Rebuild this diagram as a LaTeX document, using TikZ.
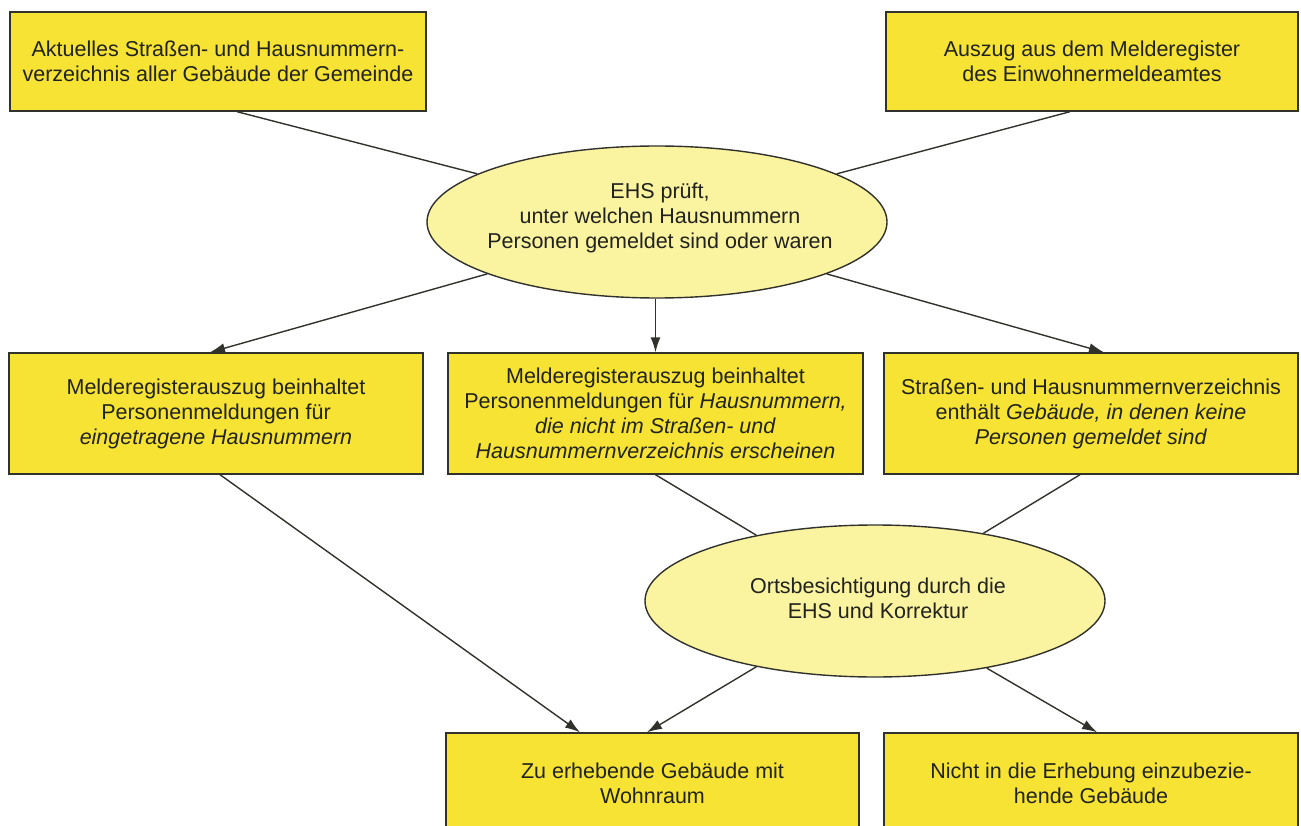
\documentclass[tikz,border=0pt]{standalone}
\usepackage{fontspec}
\setmainfont{Liberation Sans}
\usetikzlibrary{shapes.geometric,arrows.meta}
\definecolor{boxfill}{RGB}{246,227,52}
\definecolor{ellfill}{RGB}{250,243,160}
\definecolor{edge}{RGB}{50,50,45}
\definecolor{ink}{RGB}{34,34,30}
\tikzset{
  box/.style={rectangle, draw=edge, line width=1.4pt, fill=boxfill, inner sep=0pt,
    align=center, text=ink, font=\fontsize{21.5}{25}\selectfont},
  ell/.style={ellipse, draw=edge, line width=1.4pt, fill=ellfill, inner sep=0pt,
    minimum width=460pt, minimum height=152pt},
  elltext/.style={align=center, text=ink, inner sep=0pt, font=\fontsize{21.5}{25}\selectfont},
  conn/.style={draw=edge, line width=1.4pt},
  arr/.style={conn, -{Latex[length=15pt,width=10pt]}}
}
\begin{document}
\begin{tikzpicture}[x=1pt,y=-1pt]
\useasboundingbox (0,0) rectangle (1301,826);
\fill[white] (0,0) rectangle (1301,826);
\clip (0,0) rectangle (1301,826);

% top row
\node[box, minimum width=416pt, minimum height=99pt] (tl) at (218,61.5)
  {Aktuelles Straßen- und Hausnummern-\\verzeichnis aller Gebäude der Gemeinde};
\node[box, minimum width=412pt, minimum height=99pt] (tr) at (1092,61.5)
  {Auszug aus dem Melderegister\\des Einwohnermeldeamtes};

% ellipse 1
\node[ell] (e1) at (657,222) {};
\node[elltext] (e1t) at (660,218)
  {EHS prüft,\\unter welchen Hausnummern\\Personen gemeldet sind oder waren};

% middle row
\node[box, minimum width=414pt, minimum height=121pt] (ml) at (216,413.5)
  {Melderegisterauszug beinhaltet\\Personenmeldungen für\\\textit{eingetragene Hausnummern}};
\node[box, minimum width=415pt, minimum height=121pt] (mm) at (655.5,413.5)
  {Melderegisterauszug beinhaltet\\Personenmeldungen für \textit{Hausnummern,}\\\textit{die nicht im Straßen- und}\\\textit{Hausnummernverzeichnis erscheinen}};
\node[box, minimum width=414pt, minimum height=121pt] (mr) at (1091,413.5)
  {Straßen- und Hausnummernverzeichnis\\enthält \textit{Gebäude, in denen keine}\\\textit{Personen gemeldet sind}};

% ellipse 2
\node[ell] (e2) at (875,601) {};
\node[elltext] (e2t) at (878,598)
  {Ortsbesichtigung durch die\\EHS und Korrektur};

% bottom row
\node[box, minimum width=413pt, minimum height=100pt] (bl) at (652.5,783)
  {Zu erhebende Gebäude mit\\Wohnraum};
\node[box, minimum width=414pt, minimum height=100pt] (br) at (1091,783)
  {Nicht in die Erhebung einzubezie-\\hende Gebäude};

% connectors
\draw[conn] ([xshift=19pt]tl.south) -- (e1.165);
\draw[conn] ([xshift=-22pt]tr.south) -- (e1.15);
\draw[arr] (e1.197) -- ([xshift=-6pt]ml.north);
\draw[arr] (e1.south -| mm.north) -- (mm.north);
\draw[arr] (e1.343) -- ([xshift=13pt]mr.north);
\draw[arr] ([xshift=4pt]ml.south) -- ([xshift=-72.5pt]bl.north);
\draw[conn] (mm.south) -- (e2.151);
\draw[conn] ([xshift=-11pt]mr.south) -- (e2.32);
\draw[arr] (e2.209) -- ([xshift=-5.5pt]bl.north);
\draw[arr] (e2.329) -- ([xshift=6pt]br.north);
\end{tikzpicture}
\end{document}
